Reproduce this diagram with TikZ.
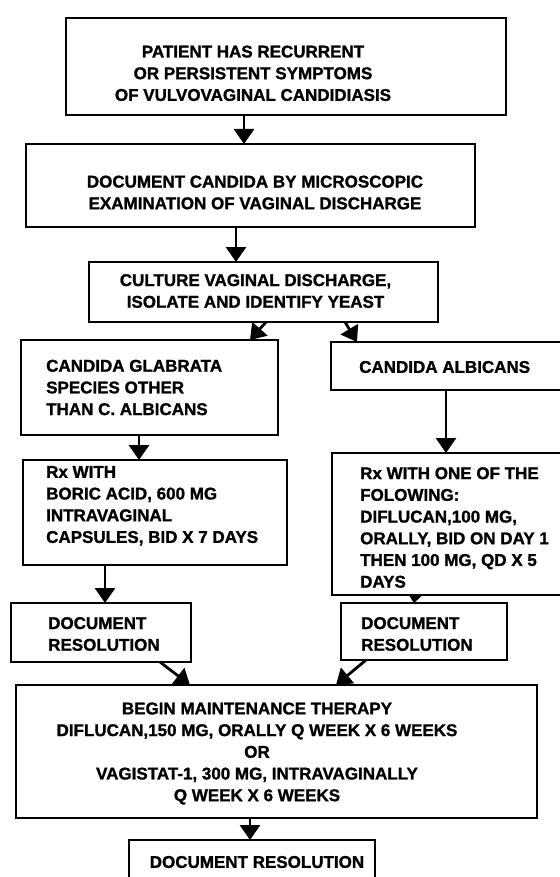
\documentclass[tikz,border=0pt]{standalone}
\usepackage{fontspec}
\setmainfont{Liberation Sans}[BoldFeatures={FakeBold=1.3}]
\usetikzlibrary{arrows.meta}
\begin{document}
\begin{tikzpicture}[x=1pt,y=-1pt,
  box/.style={draw, line width=2.8pt, inner sep=0pt, outer sep=0pt},
  txt/.style={inner sep=0pt, font=\fontsize{17}{21.7}\selectfont\bfseries},
  ctxt/.style={txt, align=center},
  ltxt/.style={txt, align=left, anchor=west},
  arr/.style={line width=2.8pt, -{Triangle[width=20pt,length=15pt]}},
  sarr/.style={line width=2.8pt, -{Triangle[width=13pt,length=8pt]}}]
\useasboundingbox (0,0) rectangle (559,877);
% boxes
\node[box, minimum width=440pt, minimum height=97pt] (b1) at (286,66.5) {};
\node[box, minimum width=449pt, minimum height=83pt] (b2) at (250.5,185.5) {};
\node[box, minimum width=349pt, minimum height=60pt] (b3) at (263.5,292) {};
\node[box, minimum width=257pt, minimum height=95pt] (b4L) at (149.5,387.5) {};
\node[box, minimum width=239pt, minimum height=48pt] (b4R) at (450.5,366) {};
\node[box, minimum width=264pt, minimum height=105pt] (b5L) at (155,512.5) {};
\node[box, minimum width=238pt, minimum height=142pt] (b5R) at (451,524) {};
\node[box, minimum width=180pt, minimum height=59pt] (b6L) at (101,632.5) {};
\node[box, minimum width=166pt, minimum height=57pt] (b6R) at (424,631.5) {};
\node[box, minimum width=521pt, minimum height=133pt] (b7) at (276.5,751.5) {};
\node[box, minimum width=246pt, minimum height=55pt] (b8) at (252,867.5) {};
% texts
\node[ctxt] (t1) at (253,73.3) {PATIENT HAS RECURRENT\\OR PERSISTENT SYMPTOMS\\OF VULVOVAGINAL CANDIDIASIS};
\node[ctxt] (t2) at (255,192.5) {DOCUMENT CANDIDA BY MICROSCOPIC\\EXAMINATION OF VAGINAL DISCHARGE};
\node[ctxt] (t3) at (255.5,291) {CULTURE VAGINAL DISCHARGE,\\ISOLATE AND IDENTIFY YEAST};
\node[ltxt] (t4L) at (46,387.5) {CANDIDA GLABRATA\\SPECIES OTHER\\THAN C. ALBICANS};
\node[ltxt] (t4R) at (359,367) {CANDIDA ALBICANS};
\node[ltxt] (t5L) at (46,505.8) {Rx WITH\\BORIC ACID, 600 MG\\INTRAVAGINAL\\CAPSULES, BID X 7 DAYS};
\node[ltxt] (t5R) at (360,527.5) {Rx WITH ONE OF THE\\FOLOWING:\\DIFLUCAN,100 MG,\\ORALLY, BID ON DAY 1\\THEN 100 MG, QD X 5\\DAYS};
\node[ltxt] (t6L) at (48,634) {DOCUMENT\\RESOLUTION};
\node[ltxt] (t6R) at (361,634) {DOCUMENT\\RESOLUTION};
\node[ctxt] (t7) at (257,753.5) {BEGIN MAINTENANCE THERAPY\\DIFLUCAN,150 MG, ORALLY Q WEEK X 6 WEEKS\\OR\\VAGISTAT-1, 300 MG, INTRAVAGINALLY\\Q WEEK X 6 WEEKS};
\node[ctxt] (t8) at (257,862) {DOCUMENT RESOLUTION};
% connectors
\draw[arr] ([xshift=-42pt]b1.south) -- ([xshift=-6.5pt]b2.north);
\draw[arr] ([xshift=-14.5pt]b2.south) -- ([xshift=-27.5pt]b3.north);
\draw[arr] ([xshift=2.5pt]b3.south) -- ([xshift=100.5pt]b4L.north);
\draw[arr] ([xshift=81.5pt]b3.south) -- ([xshift=-93.5pt]b4R.north);
\draw[arr] ([xshift=-10.5pt]b4L.south) -- ([xshift=-16pt]b5L.north);
\draw[arr] ([xshift=-4.5pt]b4R.south) -- ([xshift=-5pt]b5R.north);
\draw[arr] ([xshift=-50pt]b5L.south) -- ([xshift=4pt]b6L.north);
\draw[sarr] ([xshift=-36pt]b5R.south) -- ([xshift=-10pt]b6R.north);
\draw[arr] ([xshift=59pt]b6L.south) -- ([xshift=-86.5pt]b7.north);
\draw[arr] ([xshift=-58pt]b6R.south) -- ([xshift=59.5pt]b7.north);
\draw[arr] ([xshift=-26.5pt]b7.south) -- ([xshift=-2pt]b8.north);
\end{tikzpicture}
\end{document}
